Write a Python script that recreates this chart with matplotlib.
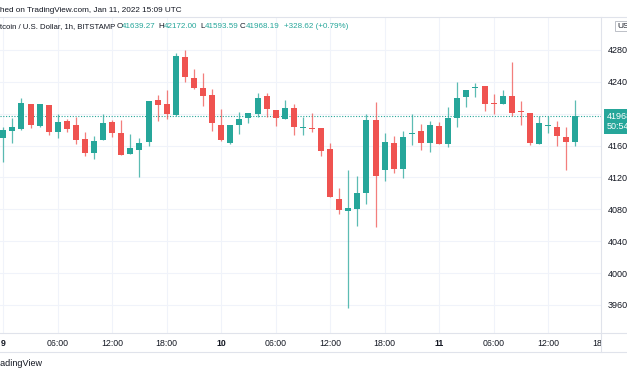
import matplotlib.pyplot as plt
from matplotlib.lines import Line2D
import matplotlib.transforms as mtransforms

plt.rcParams['font.family'] = ['Liberation Sans', 'DejaVu Sans']

# 1h candles, BTC/USD Bitstamp, from Jan 9 00:00 (hour 0) to Jan 11 15:00 (hour 63)
hours = list(range(64))
opens = [41696, 41784, 41809, 42122, 41846, 42110, 41771, 41909, 41859, 41683,
         41507, 41671, 41896, 41758, 41495, 41545, 41645, 42172, 42122, 41984,
         42712, 42449, 42323, 42235, 41859, 41633, 41859, 41947, 41997, 42223,
         42047, 41934, 42072, 41815, 41822, 41821, 41558, 40930, 40779, 40804,
         41005, 41922, 41294, 41633, 41307, 41740, 41784, 41633, 41846, 41620,
         41947, 42210, 42318, 42348, 42125, 42122, 42223, 42026, 42009, 41620,
         41842, 41834, 41708, 41639.27]
closes = [41796, 41834, 42135, 41859, 42122, 41771, 41896, 41809, 41671, 41507,
          41658, 41884, 41758, 41482, 41570, 41633, 42160, 42110, 41997, 42725,
          42461, 42323, 42223, 41884, 41671, 41859, 41934, 42009, 42198, 42060,
          41947, 42072, 41834, 41825, 41812, 41532, 40955, 40792, 40817, 41005,
          41922, 41219, 41645, 41307, 41708, 41750, 41633, 41859, 41620, 41947,
          42198, 42298, 42328, 42122, 42118, 42223, 42009, 42018, 41633, 41884,
          41850, 41721, 41645, 41968.19]
highs = [41834, 41947, 42198, 42122, 42122, 42110, 41997, 41934, 41959, 41771,
         41721, 41997, 41922, 41922, 41746, 41696, 42160, 42235, 42298, 42762,
         42800, 42562, 42511, 42311, 42060, 41859, 42022, 42009, 42260, 42260,
         42047, 42172, 42122, 41959, 42009, 41821, 41633, 41068, 41294, 41219,
         41997, 42147, 41758, 41721, 41784, 41997, 41871, 41909, 41896, 42085,
         42398, 42298, 42386, 42348, 42248, 42298, 42649, 42160, 42009, 41972,
         41972, 41909, 41834, 42172.00]
lows = [41394, 41633, 41796, 41821, 41834, 41733, 41696, 41771, 41620, 41470,
        41432, 41671, 41708, 41482, 41495, 41206, 41595, 41909, 41934, 41972,
        42398, 42311, 42097, 41784, 41658, 41620, 41746, 41884, 41959, 41959,
        41846, 41934, 41733, 41733, 41771, 41470, 40955, 40742, 39562, 40591,
        40867, 40579, 41156, 41256, 41194, 41608, 41545, 41520, 41620, 41583,
        41834, 42085, 42210, 42034, 41997, 42122, 41972, 41859, 41608, 41620,
        41758, 41595, 41294, 41593.59]

price_ticks = [39600, 40000, 40400, 40800, 41200, 41600, 42000, 42400, 42800]
time_ticks = [0, 6, 12, 18, 24, 30, 36, 42, 48, 54, 60, 66]
time_labels = ['9', '06:00', '12:00', '18:00', '10', '06:00', '12:00', '18:00',
               '11', '06:00', '12:00', '18']

green = '#26a69a'
red = '#ef5350'
text_c = '#131722'
line_c = '#e0e3eb'
grid_c = '#f0f3fa'

W, H = 627, 376
def px(x):
    return x / W
def py(y):
    return 1 - y / H

fig = plt.figure(figsize=(6.27, 3.76), dpi=100)
ax = fig.add_axes([0, py(333), px(601), (333 - 17) / H])

# candles
for h, o, hi, lo, c in zip(hours, opens, highs, lows, closes):
    col = green if c >= o else red
    ax.vlines(h, lo, hi, color=col, lw=0.9, alpha=0.75, zorder=2)
    body = max(abs(c - o), 14)
    ax.bar(h, body, bottom=min(o, c), width=0.66, color=col, lw=0, zorder=3)

# last price line
ax.axhline(closes[-1], color=green, ls=(0, (1, 1.5)), lw=0.8, zorder=1)

ax.set_xlim(-0.36, 65.83)
ax.set_ylim(39248, 43214)

# the 42000 label sits under the last-price badge, hidden like in TradingView
ax.set_yticks(price_ticks)
ax.set_yticklabels(['' if p == 42000 else str(p) for p in price_ticks])
ax.yaxis.tick_right()
ax.tick_params(axis='y', length=0, pad=4.8, labelsize=6.5, labelcolor=text_c)

ax.set_xticks(time_ticks[:-1])
ax.set_xticklabels(time_labels[:-1])
ax.tick_params(axis='x', length=0, pad=4.5, labelsize=6.3, labelcolor=text_c)
for lab in ax.get_xticklabels():
    if lab.get_text() in ('9', '10', '11'):
        lab.set_fontweight('bold')
trans = mtransforms.blended_transform_factory(ax.transData, ax.transAxes)
ax.text(time_ticks[-1] - 0.55, -0.0198, time_labels[-1], transform=trans,
        ha='center', va='top', fontsize=6.3, color=text_c, clip_on=False)

ax.grid(color=grid_c, lw=0.8)
ax.set_axisbelow(True)
for s in ax.spines.values():
    s.set_visible(False)

# last price badge
ax.annotate('41968\n50:54', xy=(1, closes[-1]), xycoords=('axes fraction', 'data'),
            xytext=(6, 4), textcoords='offset pixels', ha='left', va='top',
            color='white', fontsize=6.5, linespacing=1.15, annotation_clip=False,
            bbox=dict(boxstyle='square,pad=0.35', fc=green, ec='none'))

# pane borders
fig.add_artist(Line2D([0, 1], [py(17), py(17)], color=line_c, lw=0.8))
fig.add_artist(Line2D([0, 1], [py(333), py(333)], color=line_c, lw=0.8))
fig.add_artist(Line2D([0, 1], [py(352), py(352)], color=line_c, lw=0.8))
fig.add_artist(Line2D([px(601), px(601)], [py(17), py(352)], color=line_c, lw=0.8))

# header
fig.text(px(181), py(10), 'Published on TradingView.com, Jan 11, 2022 15:09 UTC',
         ha='right', va='center', fontsize=5.9, color=text_c)
fig.text(px(115), py(27), 'Bitcoin / U.S. Dollar, 1h, BITSTAMP',
         ha='right', va='center', fontsize=5.6, color=text_c)
legend_parts = [(116.5, 'O', text_c), (122, '41639.27', green),
                (158, 'H', text_c), (163.5, '42172.00', green),
                (200, 'L', text_c), (204.5, '41593.59', green),
                (240, 'C', text_c), (245.5, '41968.19', green),
                (284, '+328.62 (+0.79%)', green)]
for x, s, c in legend_parts:
    fig.text(px(x), py(27), s, ha='left', va='center', fontsize=5.8, color=c)

fig.text(px(617), py(26), 'USD', ha='left', va='center', fontsize=6, color=text_c,
         bbox=dict(boxstyle='square,pad=0.2', fc='white', ec='#b2b5be', lw=0.6))

fig.text(px(43), py(364), 'TradingView', ha='right', va='center', fontsize=6.5,
         color=text_c)

fig.savefig('out.png', dpi=100)
